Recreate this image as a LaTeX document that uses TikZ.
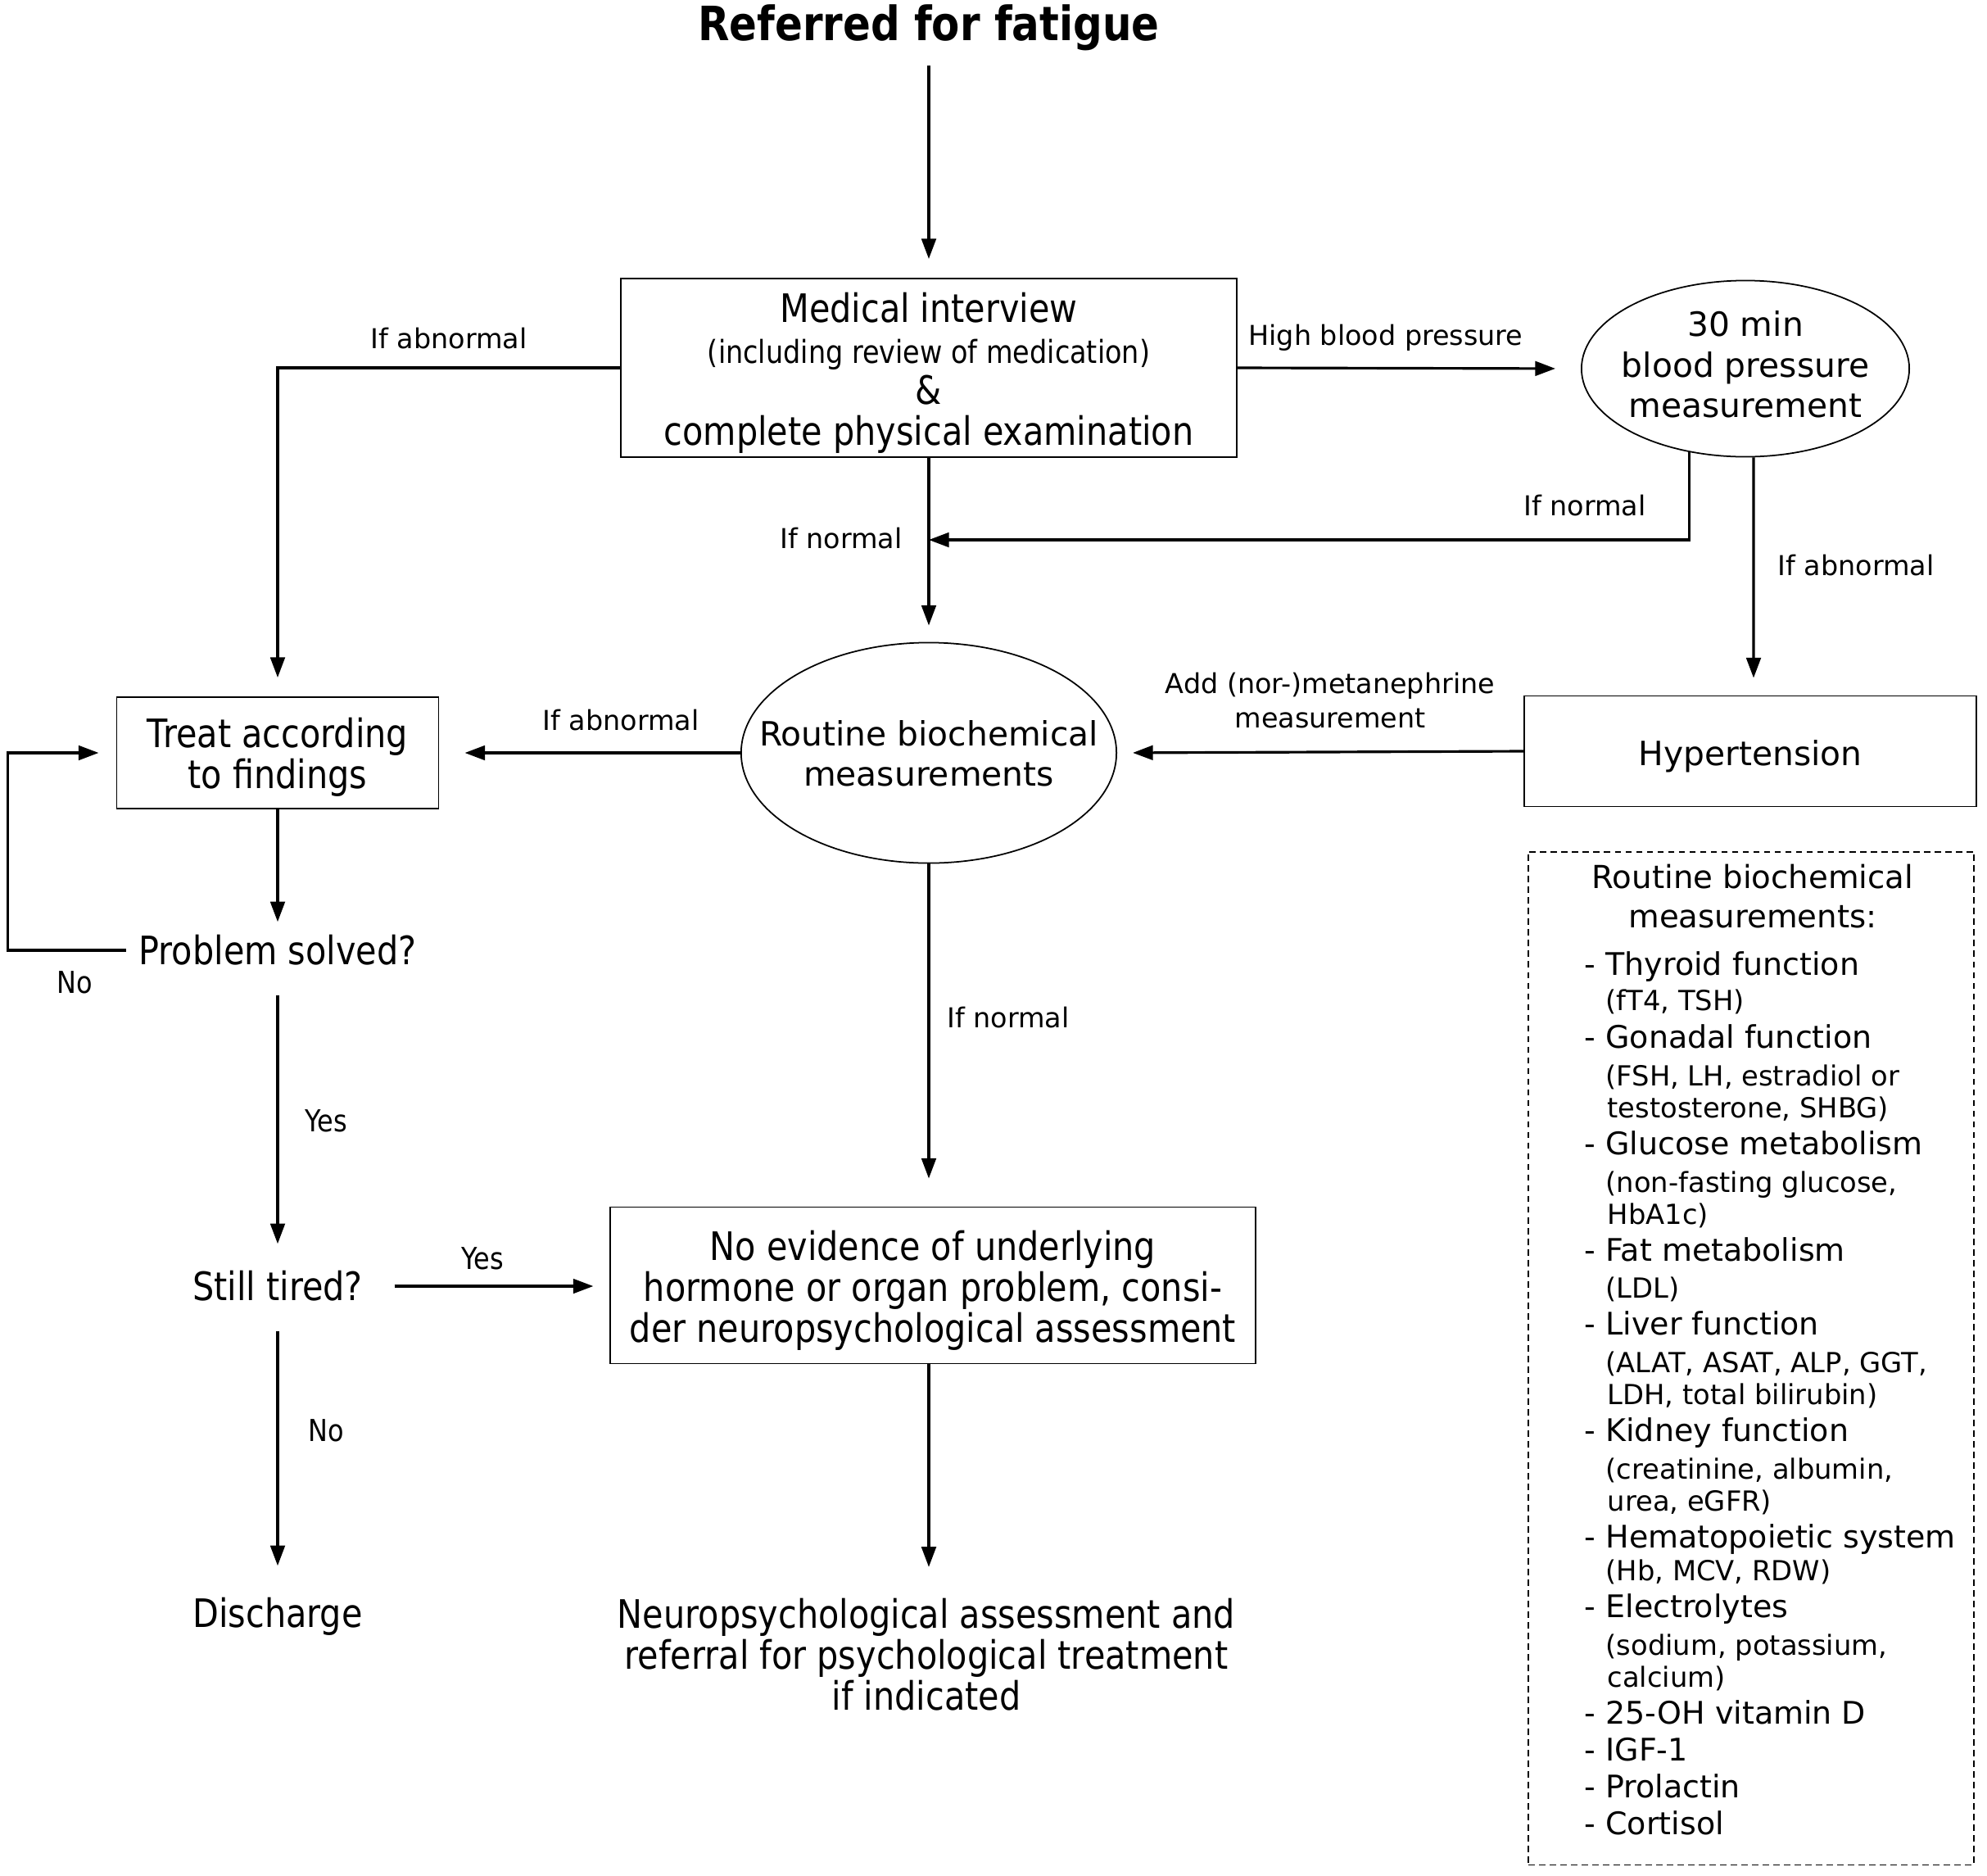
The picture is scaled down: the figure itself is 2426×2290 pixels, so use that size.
\documentclass[tikz,border=0pt]{standalone}
\usepackage{fontspec}
\setmainfont{DejaVu Sans}
\newfontfamily\condf[FakeStretch=0.865]{DejaVu Sans}
\usetikzlibrary{shapes.geometric,arrows.meta}
\newcommand\fsz[2]{\fontsize{#1}{#2}\selectfont}
\tikzset{
  arr/.style={-{Triangle[length=7pt,width=5pt]}, line width=0.9pt},
  box/.style={draw, line width=0.5pt, inner sep=0pt},
  ell/.style={draw, ellipse, line width=0.5pt, inner sep=0pt},
  ntxt/.style={align=center, inner sep=0pt, font=\fsz{11.6pt}{14pt}},
  big/.style={inner sep=0pt, align=center, font=\condf\fsz{13.6pt}{14.2pt}, text height=0.41cm, text depth=0.07cm},
  bigml/.style={inner sep=0pt, align=center, font=\condf\fsz{13.6pt}{14.2pt}},
  lbl/.style={inner sep=0pt, align=center, font=\fsz{9.5pt}{11.7pt}},
  yn/.style={inner sep=0pt, font=\condf\fsz{10.5pt}{12pt}},
  pitem/.style={anchor=base west, inner sep=0pt, font=\fsz{10.8pt}{12pt}},
  psub/.style={anchor=base west, inner sep=0pt, font=\fsz{9.6pt}{11pt}},
  panelbox/.style={draw, line width=0.5pt, dash pattern=on 2.2pt off 1.5pt, inner sep=0pt}
}
\begin{document}
\begin{tikzpicture}[x=0.01cm,y=-0.01cm]
\useasboundingbox[fill=white] (0,0) rectangle (2426,2290);

% nodes
\node[inner sep=0pt, font=\condf\bfseries\fsz{16.4pt}{18pt}] (title) at (1134,34) {Referred for fatigue};
\node[box, minimum width=7.51cm, minimum height=2.18cm,
  label={[bigml, yshift=-0.06cm]center:Medical interview\\{\fsz{11pt}{14.2pt}(including review of medication)}\\\&\\complete physical examination}] (med) at (1134,449) {};
\node[ell, minimum width=4.00cm, minimum height=2.15cm,
  label={[ntxt, yshift=0.05cm]center:30 min\\blood pressure\\measurement}] (bp) at (2131,450) {};
\node[ell, minimum width=4.58cm, minimum height=2.69cm,
  label={[ntxt, yshift=-0.01cm]center:Routine biochemical\\measurements}] (routine) at (1134,919) {};
\node[box, minimum width=5.52cm, minimum height=1.35cm,
  label={[ntxt, yshift=-0.06cm]center:Hypertension}] (hyp) at (2137,917) {};
\node[box, minimum width=3.93cm, minimum height=1.36cm,
  label={[bigml, yshift=-0.05cm]center:Treat according\\to findings}] (treat) at (339,919) {};
\node[big] (solved) at (339,1160) {Problem solved?};
\node[big] (tired) at (339,1570) {Still tired?};
\node[big] (discharge) at (339,1969) {Discharge};
\node[box, minimum width=7.87cm, minimum height=1.91cm,
  label={[bigml, yshift=-0.06cm]center:No evidence of underlying\\hormone or organ problem, consi-\\der neuropsychological assessment}] (noev) at (1139,1569) {};
\node[bigml] (final) at (1131,2020) {Neuropsychological assessment and\\referral for psychological treatment\\if indicated};
\coordinate (join) at (1134,659);

% connectors
\draw[arr, shorten <=0.17cm, shorten >=0.23cm] (title) -- (med);
\draw[arr, shorten >=0.23cm] (med.west) -| (treat.north);
\draw[arr, shorten >=0.31cm] (med.east) -- (bp.west);
\draw[arr] (bp.236.7) |- (join);
\draw[arr, shorten >=0.21cm] ([xshift=0.1cm]bp.south) -- ([xshift=0.04cm]hyp.north);
\draw[arr, shorten >=0.2cm] (med.south) -- (routine.north);
\draw[arr, shorten >=0.19cm] (hyp.west) -- (routine.east);
\draw[arr, shorten >=0.31cm] (routine.west) -- (treat.east);
\draw[arr, shorten >=0.1cm] (treat.south) -- (solved.north);
\draw[arr, shorten <=0.15cm, shorten >=0.21cm] (solved.west) -- ++(-1.59cm,0) |- (treat.west);
\draw[arr, shorten <=0.30cm, shorten >=0.27cm] (solved.south) -- (tired.north);
\draw[arr, shorten <=0.38cm, shorten >=0.20cm] (tired.east) -- (tired.east -| noev.west);
\draw[arr, shorten <=0.30cm, shorten >=0.33cm] (tired.south) -- (discharge.north);
\draw[arr, shorten >=0.34cm] (routine.south) -- (routine.south |- noev.north);
\draw[arr, shorten >=0.38cm] (routine.south |- noev.south) -- (routine.south |- final.north);

% labels
\node[lbl] (l1) at (548,413) {If abnormal};
\node[lbl] (l2) at (1692,412) {High blood pressure};
\node[lbl] (l3) at (1935,617) {If normal};
\node[lbl] (l4) at (2266,690) {If abnormal};
\node[lbl] (l5) at (1027,657) {If normal};
\node[lbl] (l6) at (1624,855) {Add (nor-)metanephrine\\measurement};
\node[lbl] (l7) at (758,879) {If abnormal};
\node[lbl] (l8) at (1231,1242) {If normal};
\node[yn] (y1) at (91,1199) {No};
\node[yn] (y2) at (398,1368) {Yes};
\node[yn] (y3) at (589,1536) {Yes};
\node[yn] (y4) at (398,1746) {No};

% panel
\node[panelbox, minimum width=5.44cm, minimum height=12.36cm] (panel) at (2138,1658) {};
\node[ntxt, font=\fsz{11pt}{13.7pt}] (ph) at (2140,1094) {Routine biochemical\\measurements:};
\node[pitem] (p1) at (1934,1190) {- Thyroid function};
\node[psub] (p2) at (1960,1233) {(fT4, TSH)};
\node[pitem] (p3) at (1934,1279) {- Gonadal function};
\node[psub] (p4) at (1960,1325) {(FSH, LH, estradiol or};
\node[psub] (p5) at (1962,1364) {testosterone, SHBG)};
\node[pitem] (p6) at (1934,1409) {- Glucose metabolism};
\node[psub] (p7) at (1960,1455) {(non-fasting glucose,};
\node[psub] (p8) at (1962,1494) {HbA1c)};
\node[pitem] (p9) at (1934,1539) {- Fat metabolism};
\node[psub] (p10) at (1960,1584) {(LDL)};
\node[pitem] (p11) at (1934,1629) {- Liver function};
\node[psub] (p12) at (1960,1675) {(ALAT, ASAT, ALP, GGT,};
\node[psub] (p13) at (1962,1714) {LDH, total bilirubin)};
\node[pitem] (p14) at (1934,1759) {- Kidney function};
\node[psub] (p15) at (1960,1805) {(creatinine, albumin,};
\node[psub] (p16) at (1962,1844) {urea, eGFR)};
\node[pitem] (p17) at (1934,1889) {- Hematopoietic system};
\node[psub] (p18) at (1960,1929) {(Hb, MCV, RDW)};
\node[pitem] (p19) at (1934,1974) {- Electrolytes};
\node[psub] (p20) at (1960,2020) {(sodium, potassium,};
\node[psub] (p21) at (1962,2059) {calcium)};
\node[pitem] (p22) at (1934,2104) {- 25-OH vitamin D};
\node[pitem] (p23) at (1934,2149) {- IGF-1};
\node[pitem] (p24) at (1934,2194) {- Prolactin};
\node[pitem] (p25) at (1934,2239) {- Cortisol};
\end{tikzpicture}
\end{document}
